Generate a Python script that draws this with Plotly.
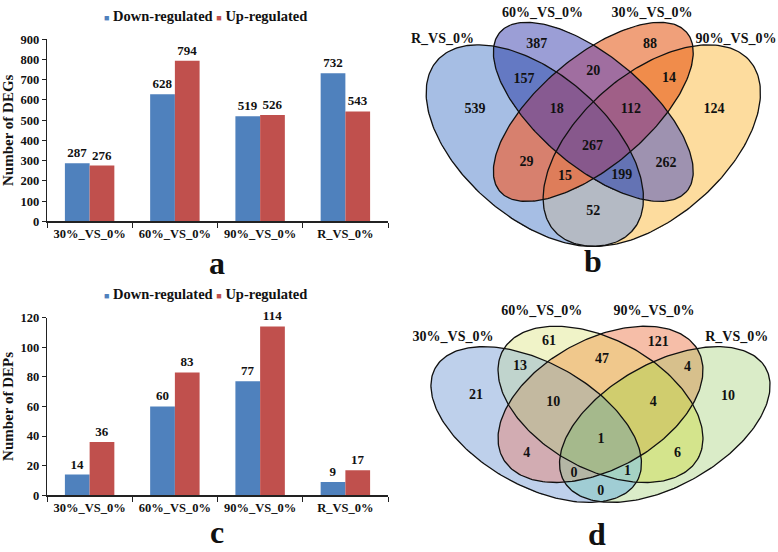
import numpy as np
import plotly.graph_objects as go
from itertools import combinations

W, H = 778, 552
FONT = "Liberation Serif, Times New Roman, serif"
BLUE, RED = "#4F81BD", "#C0504D"

# ---------------- data ----------------
groups = ["30%_VS_0%", "60%_VS_0%", "90%_VS_0%", "R_VS_0%"]
deg_down = [287, 628, 519, 732]
deg_up = [276, 794, 526, 543]
dep_down = [14, 60, 77, 9]
dep_up = [36, 83, 114, 17]

# Venn region order: singles, pairs, triples, all four (set indices below)
venn_b_sets = ["R_VS_0%", "60%_VS_0%", "30%_VS_0%", "90%_VS_0%"]
venn_b_values = [539, 387, 88, 124, 157, 29, 52, 20, 262, 14, 18, 199, 15, 112, 267]
venn_d_sets = ["30%_VS_0%", "60%_VS_0%", "90%_VS_0%", "R_VS_0%"]
venn_d_values = [21, 61, 121, 10, 13, 4, 0, 47, 6, 4, 10, 1, 0, 4, 1]

KEYS = [k for r in range(1, 5) for k in combinations(range(4), r)]

# ---------------- Venn geometry (pixels: cx, cy, semi-major, semi-minor, tilt deg) ----------------
GEOM_B = dict(outer=(534.8, 142.2, 131.0, 73.1, 42.3), inner=(593.3, 107.6, 124.0, 55.3, 41.4), axis=593.3)
GEOM_D = dict(outer=(536.2, 428.4, 116.4, 62.6, 30.4), inner=(600.5, 407.7, 112.2, 65.9, 30.2), axis=600.5)

def mirror(e, axis):
    cx, cy, a, b, th = e
    return (2 * axis - cx, cy, a, b, -th)

def four(g):
    return [g["outer"], g["inner"], mirror(g["inner"], g["axis"]), mirror(g["outer"], g["axis"])]

colors_b = ["#a6bee4", "#9b9ed6", "#f0a07a", "#fddc9e",
            "#6479c3", "#d7806e", "#b4bac4", "#a06ea0", "#9e92b0", "#f08c4b",
            "#875a91", "#6473b4", "#de7d5a", "#a05f87", "#87588c"]
colors_d = ["#bed0eb", "#f0f3c8", "#f6bea8", "#daecc8",
            "#c0d4cd", "#d2acb2", "#a0cdd4", "#f0c88c", "#d4e48c", "#d7c08c",
            "#c3b9a0", "#a5d2c3", "#b4b6a5", "#d0cd6e", "#a5b98c"]

pos_b = [(475,105),(536.7,38.3),(650,38.3),(714,105),(524,74),(526.5,160),(593.3,209.5),(593.3,66),
         (666,161),(669,73.3),(556.7,105),(621.7,173.3),(565,174),(630.8,105),(592.5,143.3)]
pos_d = [(476,399),(549,343),(658.3,344),(728,400),(520,369),(526.7,458),(600.8,497),(602,361.3),
         (677.5,458),(687.5,369.7),(553.3,405.5),(627.5,477),(574,479),(653.3,405.5),(601,443.8)]
lab_b = [(442.5,33),(542.5,7),(652,7),(736,33)]
lab_d = [(453,339),(541.7,312),(654,312),(736.7,339)]

def inside(e, X, Y):
    cx, cy, a, b, th = e
    t = np.radians(th)
    dx, dy = X - cx, Y - cy
    u = (dx * np.cos(t) + dy * np.sin(t)) / a
    v = (-dx * np.sin(t) + dy * np.cos(t)) / b
    return u * u + v * v <= 1

def outline(e, n=240):
    cx, cy, a, b, th = e
    t = np.radians(th)
    s = np.linspace(0, 2 * np.pi, n)
    return (cx + a * np.cos(t) * np.cos(s) - b * np.sin(t) * np.sin(s),
            cy + a * np.sin(t) * np.cos(s) + b * np.cos(t) * np.sin(s))

fig = go.Figure()
bold = dict(family=FONT, color="#111", weight="bold")

for name, vals, col, ax in [("Down-regulated", deg_down, BLUE, ("x", "y")),
                            ("Up-regulated", deg_up, RED, ("x", "y")),
                            ("Down-regulated", dep_down, BLUE, ("x2", "y2")),
                            ("Up-regulated", dep_up, RED, ("x2", "y2"))]:
    fig.add_trace(go.Bar(x=groups, y=vals, name=name, marker=dict(color=col, line=dict(width=0)),
                         text=vals, textposition="outside", cliponaxis=False,
                         textfont=dict(size=13, **bold), xaxis=ax[0], yaxis=ax[1], showlegend=False))

def add_venn(ells, values, colors, pos, labs, names, x0, x1, y0, y1):
    xs = np.arange(x0, x1) + 0.5
    ys = np.arange(y0, y1) + 0.5
    X, Y = np.meshgrid(xs, ys)
    code = np.zeros(X.shape, dtype=np.int8)
    for i, e in enumerate(ells):
        code += (inside(e, X, Y).astype(np.int8) << i)
    bycode = ["rgba(0,0,0,0)"] * 16
    for k, c in zip(KEYS, colors):
        bycode[sum(1 << i for i in k)] = c
    cs = []
    for i, c in enumerate(bycode):
        cs += [[i / 16, c], [(i + 1) / 16, c]]
    fig.add_trace(go.Heatmap(x=xs, y=ys, z=code, zmin=-0.5, zmax=15.5, colorscale=cs, showscale=False,
                             hoverinfo="skip", zsmooth=False, xaxis="x3", yaxis="y3"))
    for e in ells:
        ox, oy = outline(e)
        fig.add_trace(go.Scatter(x=ox, y=oy, mode="lines", line=dict(color="#111", width=1.3),
                                 hoverinfo="skip", showlegend=False, xaxis="x3", yaxis="y3"))
    fig.add_trace(go.Scatter(x=[p[0] for p in pos], y=[p[1] for p in pos], mode="text",
                             text=[str(v) for v in values], textfont=dict(size=14, **bold),
                             hoverinfo="skip", showlegend=False, xaxis="x3", yaxis="y3"))
    fig.add_trace(go.Scatter(x=[p[0] for p in labs], y=[p[1] for p in labs], mode="text",
                             text=names, textfont=dict(size=14, **bold),
                             hoverinfo="skip", showlegend=False, xaxis="x3", yaxis="y3"))

add_venn(four(GEOM_B), venn_b_values, colors_b, pos_b, lab_b, venn_b_sets, 420, 772, 0, 250)
add_venn(four(GEOM_D), venn_d_values, colors_d, pos_d, lab_d, venn_d_sets, 420, 778, 316, 522)

def px(x): return x / W
def py(y): return 1 - y / H

axis_common = dict(showline=True, linecolor="#222", linewidth=1.3, ticks="outside", tickcolor="#222",
                   tickfont=dict(size=12.5, **bold), showgrid=False, zeroline=False)
xa = dict(type="category", tickson="boundaries", ticklen=5, range=[-0.5, 3.5], **axis_common)
fig.update_layout(
    width=W, height=H, margin=dict(l=0, r=0, t=0, b=0), autosize=False,
    paper_bgcolor="white", plot_bgcolor="rgba(0,0,0,0)",
    font=dict(family=FONT, color="#111"),
    barmode="group", bargap=0.42, bargroupgap=0,
    xaxis=dict(domain=[px(47), px(388)], anchor="y", **xa),
    yaxis=dict(domain=[py(220), py(33)], anchor="x", range=[0, 900], dtick=100, ticklen=4,
               title=dict(text="Number of DEGs", font=dict(size=15, **bold), standoff=6), **axis_common),
    xaxis2=dict(domain=[px(47), px(388)], anchor="y2", **xa),
    yaxis2=dict(domain=[py(501), py(318.7)], anchor="x2", range=[0, 120], dtick=20, ticklen=4,
                title=dict(text="Number of DEPs", font=dict(size=15, **bold), standoff=6), **axis_common),
    xaxis3=dict(domain=[0, 1], anchor="y3", range=[0, W], visible=False, fixedrange=True),
    yaxis3=dict(domain=[0, 1], anchor="x3", range=[H, 0], visible=False, fixedrange=True),
)

leg = ('<span style="color:%s;font-size:9px">■</span> Down-regulated '
       '<span style="color:%s;font-size:9px">■</span> Up-regulated') % (BLUE, RED)
for yy in (9.5, 294):
    fig.add_annotation(x=px(205), y=py(yy), xref="paper", yref="paper", text=leg, showarrow=False,
                       font=dict(size=14.5, **bold), xanchor="center", yanchor="middle")
for t, xx, yy in [("a", 217, 263), ("b", 593, 261), ("c", 217, 539), ("d", 597, 541)]:
    fig.add_annotation(x=px(xx), y=py(yy), xref="paper", yref="paper", text=t, showarrow=False,
                       font=dict(size=32, **bold), xanchor="center", yanchor="middle")

fig.write_html("out.html", config={"displayModeBar": False, "staticPlot": True},
               post_script="document.body.style.margin='0px';document.body.style.overflow='hidden';")
